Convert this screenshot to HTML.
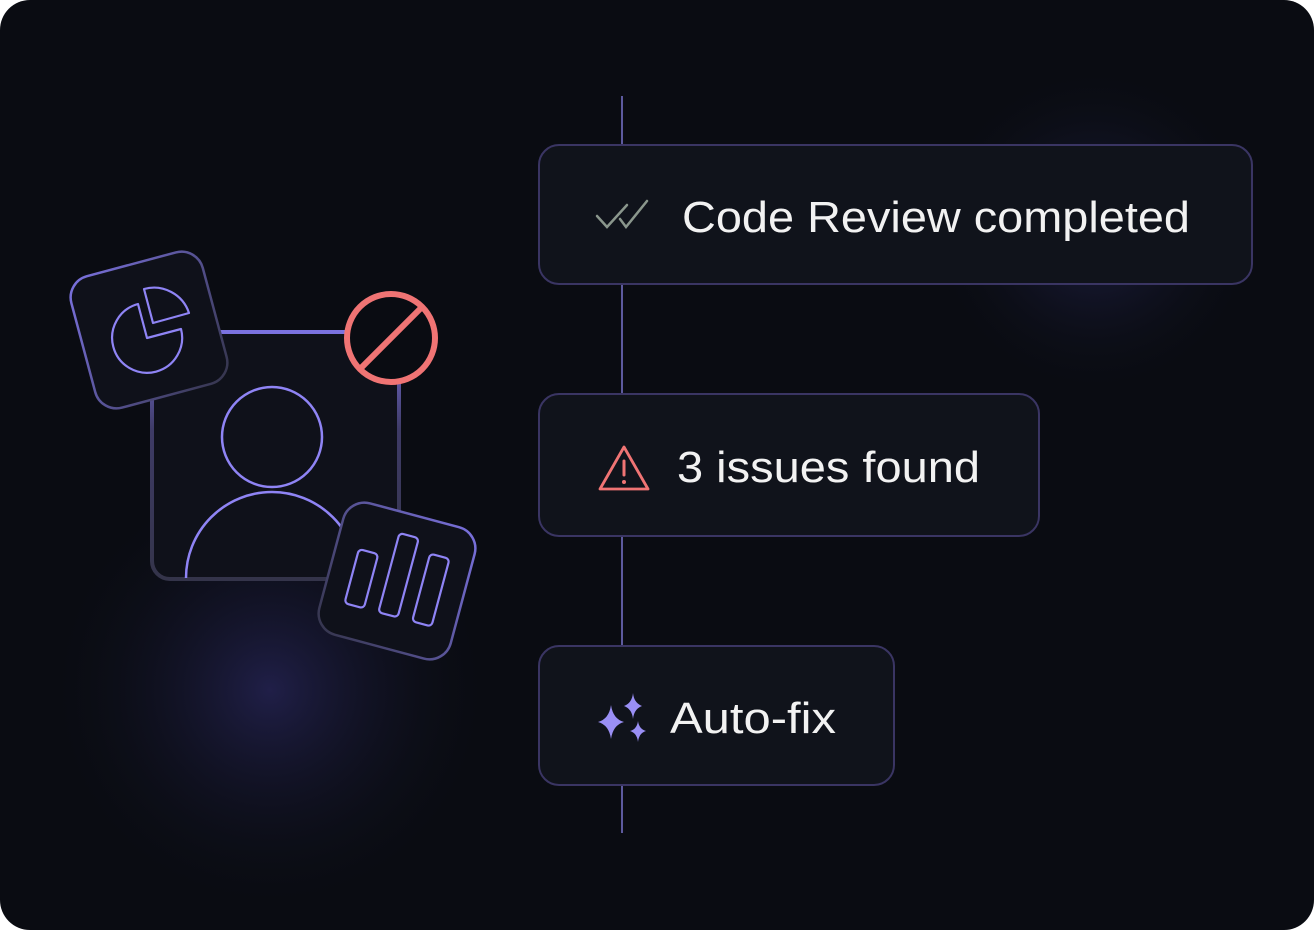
<!DOCTYPE html>
<html><head><meta charset="utf-8"><style>
html,body{margin:0;padding:0;background:#fff;}
svg{display:block;}
</style></head><body>
<svg width="1314" height="930" viewBox="0 0 1314 930" xmlns="http://www.w3.org/2000/svg">
<defs>
<radialGradient id="g1" cx="1095" cy="230" r="170" gradientUnits="userSpaceOnUse">
<stop offset="0" stop-color="#1e1f44"/><stop offset="1" stop-color="#0a0c12" stop-opacity="0"/></radialGradient>
<radialGradient id="g2" cx="270" cy="690" r="230" gradientUnits="userSpaceOnUse">
<stop offset="0" stop-color="#201f48"/><stop offset="1" stop-color="#0a0c12" stop-opacity="0"/></radialGradient>
<linearGradient id="sq" x1="0" y1="0" x2="0" y2="1">
<stop offset="0" stop-color="#7b72e0"/><stop offset="0.4" stop-color="#3e3b66"/><stop offset="1" stop-color="#34344a"/></linearGradient>
<linearGradient id="c1" x1="0" y1="0" x2="1" y2="1">
<stop offset="0" stop-color="#7b72e0"/><stop offset="1" stop-color="#34344a"/></linearGradient>
<linearGradient id="c2" x1="1" y1="0" x2="0" y2="1">
<stop offset="0" stop-color="#7b72e0"/><stop offset="1" stop-color="#34344a"/></linearGradient>
<clipPath id="sqclip"><rect x="153" y="333" width="245" height="245" rx="17"/></clipPath>
</defs>
<rect x="0" y="0" width="1314" height="930" rx="30" fill="#0a0c12"/>
<rect x="0" y="0" width="1314" height="930" rx="30" fill="url(#g1)"/>
<rect x="0" y="0" width="1314" height="930" rx="30" fill="url(#g2)"/>

<line x1="622" y1="96" x2="622" y2="833" stroke="#5d5a9e" stroke-width="2"/>

<rect x="539" y="145" width="713" height="139" rx="20" fill="#10131b" stroke="#3a3563" stroke-width="2"/>
<rect x="539" y="394" width="500" height="142" rx="20" fill="#10131b" stroke="#3a3563" stroke-width="2"/>
<rect x="539" y="646" width="355" height="139" rx="20" fill="#10131b" stroke="#3a3563" stroke-width="2"/>

<g fill="none" stroke="#8a968c" stroke-width="2.5" stroke-linecap="round">
<polyline points="597,216 607,227 627,205"/>
<polyline points="620,219 626,227 647,201"/>
</g>
<text x="682" y="232" font-family="Liberation Sans, sans-serif" font-size="44" fill="#f2f2f2" textLength="508" lengthAdjust="spacingAndGlyphs">Code Review completed</text>

<path d="M624,447 L648,489 L600,489 Z" fill="none" stroke="#f07474" stroke-width="2.8" stroke-linejoin="round"/>
<line x1="624" y1="461" x2="624" y2="475" stroke="#f07474" stroke-width="3" stroke-linecap="round"/>
<circle cx="624" cy="482" r="2" fill="#f07474"/>
<text x="677" y="482" font-family="Liberation Sans, sans-serif" font-size="44" fill="#f2f2f2" textLength="303" lengthAdjust="spacingAndGlyphs">3 issues found</text>

<g fill="#9a8ff5">
<path d="M611,705 Q613,719 624,722 Q613,725 611,739 Q609,725 598,722 Q609,719 611,705Z"/>
<path d="M633,693 Q634,703 642,706 Q634,709 633,719 Q632,709 624,706 Q632,703 633,693Z"/>
<path d="M638,721 Q639,729 646,731 Q639,733 638,742 Q637,733 630,731 Q637,729 638,721Z"/>
</g>
<text x="670" y="733" font-family="Liberation Sans, sans-serif" font-size="44" fill="#f2f2f2" textLength="166" lengthAdjust="spacingAndGlyphs">Auto-fix</text>

<!-- main square -->
<rect x="152" y="332" width="247" height="247" rx="18" fill="#0f111a" stroke="url(#sq)" stroke-width="4"/>
<g clip-path="url(#sqclip)" fill="none" stroke="#8f84f5" stroke-width="2.5">
<circle cx="272" cy="437" r="50"/>
<circle cx="272" cy="578" r="86"/>
</g>

<!-- pie card -->
<g transform="rotate(-15 149 330)">
<rect x="81" y="262" width="136" height="136" rx="22" fill="#0f111a" stroke="url(#c1)" stroke-width="2.5"/>
</g>
<g fill="none" stroke="#8f84f5" stroke-width="2.2" stroke-linejoin="round">
<path d="M138,304 L147,338 L181,329 A35,35 0 1 1 138,304 Z"/>
<path d="M144,289 L153,323 L189,313 A37,37 0 0 0 144,289 Z"/>
</g>

<!-- forbidden -->
<circle cx="391" cy="338" r="44" fill="#0a0c12" stroke="#f07474" stroke-width="6"/>
<line x1="360" y1="369" x2="422" y2="307" stroke="#f07474" stroke-width="6"/>

<!-- bar card -->
<g transform="rotate(15 397 581)">
<rect x="329" y="513" width="136" height="136" rx="22" fill="#0f111a" stroke="url(#c2)" stroke-width="2.5"/>
<g fill="none" stroke="#8f84f5" stroke-width="2.2">
<rect x="352" y="560" width="20" height="56" rx="4"/>
<rect x="387" y="534" width="20" height="82" rx="4"/>
<rect x="422" y="546" width="20" height="70" rx="4"/>
</g>
</g>
</svg>
</body></html>
